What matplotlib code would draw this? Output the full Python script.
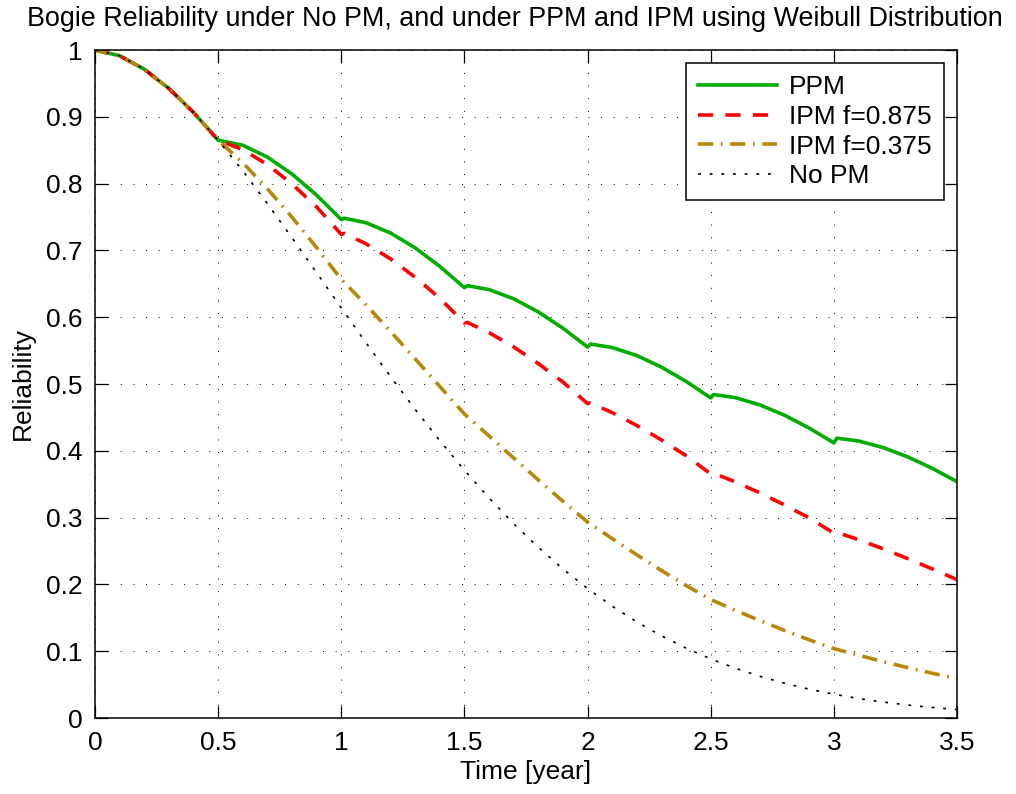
import matplotlib
matplotlib.use('Agg')
import matplotlib.pyplot as plt
from matplotlib.ticker import FixedLocator, FuncFormatter

plt.rcParams['font.family'] = ['Liberation Sans', 'DejaVu Sans']

# ---- data ----
t_nopm = [0.0, 0.1, 0.2, 0.3, 0.4, 0.5, 0.6, 0.7, 0.8, 0.9, 1.0, 1.1, 1.2, 1.3, 1.4, 1.5,
          1.6, 1.7, 1.8, 1.9, 2.0, 2.1, 2.2, 2.3, 2.4, 2.5, 2.6, 2.7, 2.8, 2.9, 3.0, 3.1,
          3.2, 3.3, 3.4, 3.5]
r_nopm = [1.0, 0.9914, 0.9712, 0.9424, 0.9065, 0.8650, 0.8191, 0.7700, 0.7188, 0.6665,
          0.6139, 0.5619, 0.5111, 0.4620, 0.4152, 0.3709, 0.3294, 0.2909, 0.2555, 0.2231,
          0.1938, 0.1674, 0.1439, 0.1230, 0.1046, 0.0885, 0.0745, 0.0624, 0.0520, 0.0431,
          0.0356, 0.0292, 0.0239, 0.0194, 0.0157, 0.0127]

t_ppm = [0.0, 0.1, 0.2, 0.3, 0.4, 0.5, 0.6, 0.7, 0.8, 0.9, 1.0,
         1.012, 1.1, 1.2, 1.3, 1.4, 1.5,
         1.512, 1.6, 1.7, 1.8, 1.9, 2.0,
         2.012, 2.1, 2.2, 2.3, 2.4, 2.5,
         2.512, 2.6, 2.7, 2.8, 2.9, 3.0,
         3.012, 3.1, 3.2, 3.3, 3.4, 3.5]
r_ppm = [1.0, 0.9914, 0.9712, 0.9424, 0.9065, 0.8650, 0.8574, 0.8397, 0.8143, 0.7827, 0.7462,
         0.7482, 0.7415, 0.7260, 0.7038, 0.6761, 0.6442,
         0.6472, 0.6413, 0.6276, 0.6079, 0.5835, 0.5553,
         0.5598, 0.5546, 0.5426, 0.5253, 0.5039, 0.4792,
         0.4842, 0.4796, 0.4687, 0.4532, 0.4340, 0.4119,
         0.4189, 0.4147, 0.4049, 0.3909, 0.3737, 0.3538]

t_ipm875 = [0.0, 0.1, 0.2, 0.3, 0.4, 0.5, 0.6, 0.7, 0.8, 0.9, 1.0,
            1.012, 1.1, 1.2, 1.3, 1.4, 1.5,
            1.512, 1.6, 1.7, 1.8, 1.9, 2.0,
            2.012, 2.1, 2.2, 2.3, 2.4, 2.5,
            2.512, 2.6, 2.7, 2.8, 2.9, 3.0,
            3.012, 3.1, 3.2, 3.3, 3.4, 3.5]
r_ipm875 = [1.0, 0.9914, 0.9712, 0.9424, 0.9065, 0.8650, 0.8509, 0.8285, 0.7994, 0.7651, 0.7240,
            0.7255, 0.7100, 0.6874, 0.6598, 0.6284, 0.5914,
            0.5921, 0.5769, 0.5556, 0.5306, 0.5030, 0.4707,
            0.4715, 0.4572, 0.4379, 0.4163, 0.3927, 0.3654,
            0.3663, 0.3535, 0.3370, 0.3188, 0.2995, 0.2768,
            0.2779, 0.2670, 0.2533, 0.2386, 0.2231, 0.2072]

t_ipm375 = [0.0, 0.1, 0.2, 0.3, 0.4, 0.5, 0.6, 0.7, 0.8, 0.9, 1.0, 1.1, 1.2, 1.3, 1.4, 1.5,
            1.6, 1.7, 1.8, 1.9, 2.0, 2.1, 2.2, 2.3, 2.4, 2.5, 2.6, 2.7, 2.8, 2.9, 3.0, 3.1,
            3.2, 3.3, 3.4, 3.5]
r_ipm375 = [1.0, 0.9914, 0.9712, 0.9424, 0.9065, 0.8650, 0.8312, 0.7923, 0.7496, 0.7041,
            0.6567, 0.6187, 0.5787, 0.5377, 0.4963, 0.4551, 0.4222, 0.3892, 0.3564, 0.3244,
            0.2934, 0.2686, 0.2443, 0.2208, 0.1984, 0.1773, 0.1612, 0.1458, 0.1310, 0.1170,
            0.1039, 0.0940, 0.0844, 0.0754, 0.0670, 0.0592]

labels = ['PPM', 'IPM f=0.875', 'IPM f=0.375', 'No PM']
x_ticks = [0, 0.5, 1, 1.5, 2, 2.5, 3, 3.5]
y_ticks = [0, 0.1, 0.2, 0.3, 0.4, 0.5, 0.6, 0.7, 0.8, 0.9, 1]
title = 'Bogie Reliability under No PM, and under PPM and IPM using Weibull Distribution'

FS = 19

fig = plt.figure(figsize=(10.16, 7.94), dpi=100)
ax = fig.add_axes([95 / 1016, 1 - 718 / 794, (957 - 95) / 1016, (718 - 50) / 794])

LW = 2.6
ax.plot(t_ppm, r_ppm, color=(0.0, 0.68, 0.0), lw=LW, ls='-', label=labels[0])
ax.plot(t_ipm875, r_ipm875, color=(1.0, 0.0, 0.0), lw=LW, ls=(0, (4.2, 3.4)), label=labels[1])
ax.plot(t_ipm375, r_ipm375, color=(0.72, 0.53, 0.04), lw=LW,
        ls=(0, (4.2, 2.1, 0.5, 2.1)), label=labels[2])
ax.plot(t_nopm, r_nopm, color='k', lw=1.2, ls=(0, (1.7, 5.3)), label=labels[3])

ax.set_xlim(0, 3.5)
ax.set_ylim(0, 1)
ax.xaxis.set_major_locator(FixedLocator(x_ticks))
ax.yaxis.set_major_locator(FixedLocator(y_ticks))
fmt = FuncFormatter(lambda v, p: '%g' % v)
ax.xaxis.set_major_formatter(fmt)
ax.yaxis.set_major_formatter(fmt)
ax.tick_params(direction='in', length=9, width=0.9, top=True, right=True,
               labelsize=FS, pad=9, colors='k')
ax.grid(True, color='k', ls=(0, (1, 12)), lw=0.7)
for s in ax.spines.values():
    s.set_linewidth(1.1)

fig.text(515 / 1016, 1 - 19 / 794, title, fontsize=19.4, ha='center', va='center')
ax.set_xlabel('Time [year]', fontsize=FS, labelpad=4)
ax.set_ylabel('Reliability', fontsize=FS, labelpad=8)

leg = ax.legend(loc='upper right', fontsize=FS, frameon=True, fancybox=False,
                edgecolor='k', framealpha=1, handlelength=3.0, handletextpad=0.45,
                labelspacing=0.22, borderaxespad=0.5, borderpad=0.45)
leg.get_frame().set_linewidth(1.1)

fig.savefig('out.png', dpi=100)
